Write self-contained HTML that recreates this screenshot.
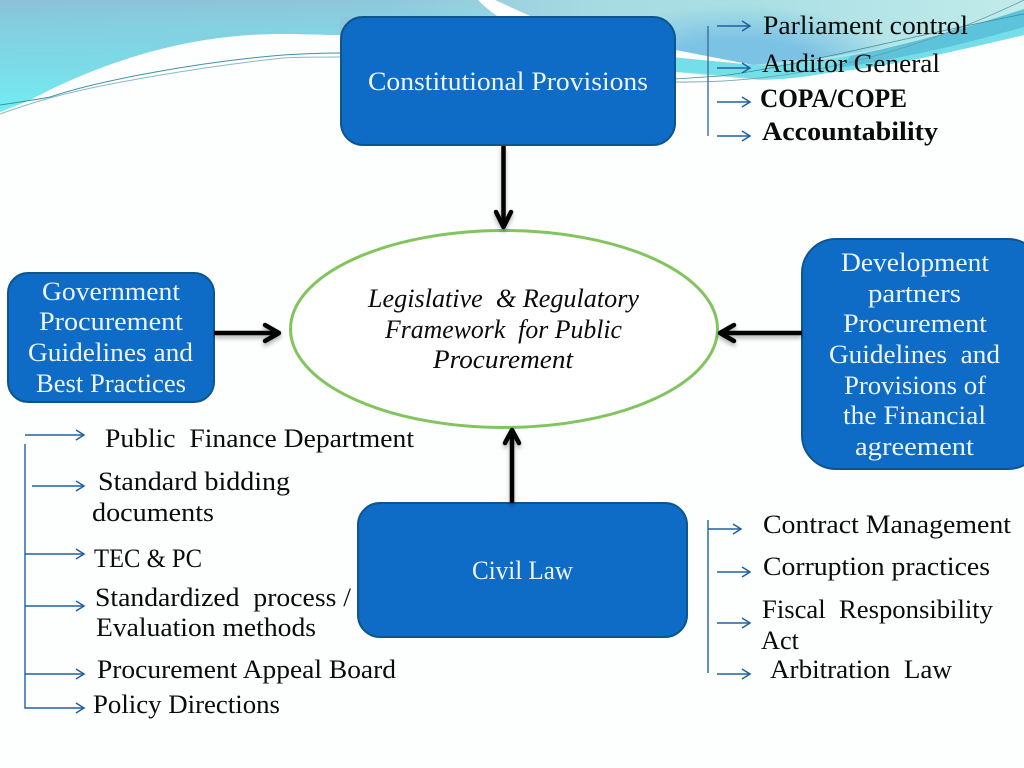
<!DOCTYPE html>
<html>
<head>
<meta charset="utf-8">
<style>
html,body{margin:0;padding:0;background:#fff}
svg{display:block}
text{font-family:"Liberation Serif",serif;font-size:26px;fill:#0b0b0b}
.w{fill:#eef4fb}
</style>
</head>
<body>
<svg width="1024" height="768" viewBox="0 0 1024 768" xmlns="http://www.w3.org/2000/svg">
<defs>
<linearGradient id="h" gradientUnits="userSpaceOnUse" x1="0" y1="0" x2="1024" y2="0">
<stop offset="0" stop-color="#8cc0d7"/>
<stop offset="0.38" stop-color="#8fc6db"/>
<stop offset="0.58" stop-color="#a6dbe2"/>
<stop offset="0.72" stop-color="#a8dfe4"/>
<stop offset="1" stop-color="#c2ebea"/>
</linearGradient>
<linearGradient id="l" gradientUnits="userSpaceOnUse" x1="0" y1="0" x2="0" y2="114">
<stop offset="0" stop-color="#6ff0f4" stop-opacity="0"/>
<stop offset="0.35" stop-color="#78e0ea" stop-opacity="0.55"/>
<stop offset="1" stop-color="#6ff0f4" stop-opacity="1"/>
</linearGradient>
<radialGradient id="b" gradientUnits="userSpaceOnUse" cx="740" cy="75" r="70" gradientTransform="translate(740 75) scale(2.4 1) translate(-740 -75)">
<stop offset="0" stop-color="#7cc2e4" stop-opacity="1"/>
<stop offset="0.5" stop-color="#7cc2e4" stop-opacity="1"/>
<stop offset="1" stop-color="#7cc2e4" stop-opacity="0"/>
</radialGradient>
<marker id="a" markerWidth="12" markerHeight="14" refX="10" refY="6" orient="auto" markerUnits="userSpaceOnUse">
<path d="M2 1L10 6L2 11" fill="none" stroke="#22609f" stroke-width="1.500"/>
</marker>
<filter id="s" x="-30%" y="-30%" width="160%" height="160%">
<feDropShadow dx="0" dy="3" stdDeviation="2" flood-color="#000" flood-opacity="0.3"/>
</filter>
</defs>
<rect width="1024" height="768" fill="#fdfefe"/>
<!-- top band -->
<path d="M0 0H1024V35C990 43 960 50 927 57C895 64 860 69 827 73C805 77 780 80 760 80L675 72V60L340 35C325 35 305 34 285 34C180 33 90 68 30 100L0 112Z" fill="url(#h)"/>
<path d="M0 0H478L500 17H340V35C325 35 305 34 285 34C180 33 90 68 30 100L0 112Z" fill="url(#l)"/>
<path d="M660 0H1024V10C950 35 880 52 800 60L753 65L660 56Z" fill="url(#b)"/>
<!-- wisps -->
<path d="M478 0H495L530 16H497C490 11 484 6 478 0Z" fill="#fff"/>
<path d="M660 47L753 65L660 56Z" fill="#fff"/>
<path d="M660 56L753 65C790 66 825 60 860 54C920 42 975 25 1024 18V35C990 43 960 50 927 57C895 64 860 69 827 73C805 77 780 80 760 79L700 73L660 71Z" fill="#74dfe8"/>
<path d="M850 56C920 42 975 25 1024 9V27C960 45 910 57 838 68C844 64 848 60 850 56Z" fill="#5cc3da"/>
<path d="M675 82C800 84 920 50 1024 0" fill="none" stroke="#6a9ca8" stroke-width="0.800"/>
<path d="M675 79L720 76C800 66 900 38 1024 14" fill="none" stroke="#3c8a9c" stroke-width="0.800"/>
<path d="M0 105C20 102 35 100 50 97C100 80 200 62 283 55C300 54 320 53 340 53" fill="none" stroke="#3f92a4" stroke-width="1"/>
<path d="M0 114C20 107 35 102 50 98C100 84 200 67 283 58C300 57 320 57 340 57" fill="none" stroke="#8ab8c6" stroke-width="1"/>

<!-- boxes -->
<rect x="341" y="17" width="334" height="128" rx="22" fill="#0e6bc6" stroke="#0c558f" stroke-width="2"/>
<rect x="8" y="273" width="206" height="129" rx="20" fill="#0e6bc6" stroke="#0c558f" stroke-width="2"/>
<rect x="802" y="239" width="240" height="230" rx="34" fill="#0e6bc6" stroke="#0c558f" stroke-width="2"/>
<rect x="358" y="503" width="329" height="134" rx="22" fill="#0e6bc6" stroke="#0c558f" stroke-width="2"/>
<ellipse cx="504" cy="329" rx="213.500" ry="98.500" fill="#fff" stroke="#82c45e" stroke-width="3"/>

<!-- thick arrows -->
<g fill="none" stroke="#050505" stroke-width="4.500" stroke-linejoin="round" filter="url(#s)">
<path d="M503.500 146V227"/><path d="M496 212L503.500 227L511 212" stroke-linecap="round"/>
<path d="M214 333H279"/><path d="M265 325L279 333L265 341" stroke-linecap="round"/>
<path d="M802 333H720"/><path d="M734 325L720 333L734 341" stroke-linecap="round"/>
<path d="M512 503V430"/><path d="M505 443L512 430L519 443" stroke-linecap="round"/>
</g>

<!-- thin connector lines -->
<g fill="none" stroke="#22609f" stroke-width="1.400">
<path d="M708 26V136" stroke="#3a70a0"/>
<path d="M717 26H750" marker-end="url(#a)"/>
<path d="M717 68H750" marker-end="url(#a)"/>
<path d="M717 102H750" marker-end="url(#a)"/>
<path d="M717 136H750" marker-end="url(#a)"/>
<path d="M25 435H84" marker-end="url(#a)"/>
<path d="M25 444V708H84" marker-end="url(#a)"/>
<path d="M32 486H84" marker-end="url(#a)"/>
<path d="M25 554H84" marker-end="url(#a)"/>
<path d="M25 606H84" marker-end="url(#a)"/>
<path d="M25 674H84" marker-end="url(#a)"/>
<path d="M708 520V673"/>
<path d="M708 529H741" marker-end="url(#a)"/>
<path d="M717 572H750" marker-end="url(#a)"/>
<path d="M717 623H750" marker-end="url(#a)"/>
<path d="M717 674H750" marker-end="url(#a)"/>
</g>

<!-- box labels -->
<text class="w" x="368" y="90" textLength="280" lengthAdjust="spacingAndGlyphs">Constitutional Provisions</text>
<text class="w" x="42" y="300" textLength="138" lengthAdjust="spacingAndGlyphs">Government</text>
<text class="w" x="39" y="330" textLength="144" lengthAdjust="spacingAndGlyphs">Procurement</text>
<text class="w" x="28" y="361" textLength="165" lengthAdjust="spacingAndGlyphs">Guidelines and</text>
<text class="w" x="36" y="392" textLength="150" lengthAdjust="spacingAndGlyphs">Best Practices</text>
<text class="w" x="841" y="271" textLength="148" lengthAdjust="spacingAndGlyphs">Development</text>
<text class="w" x="868" y="302" textLength="93" lengthAdjust="spacingAndGlyphs">partners</text>
<text class="w" x="843" y="332" textLength="144" lengthAdjust="spacingAndGlyphs">Procurement</text>
<text class="w" x="829" y="363" textLength="171" lengthAdjust="spacingAndGlyphs" xml:space="preserve">Guidelines  and</text>
<text class="w" x="844" y="394" textLength="142" lengthAdjust="spacingAndGlyphs">Provisions of</text>
<text class="w" x="843" y="424" textLength="143" lengthAdjust="spacingAndGlyphs">the Financial</text>
<text class="w" x="855" y="455" textLength="119" lengthAdjust="spacingAndGlyphs">agreement</text>
<text class="w" x="472" y="579" textLength="101" lengthAdjust="spacingAndGlyphs">Civil Law</text>
<g style="font-style:italic">
<text x="368" y="307" textLength="271" lengthAdjust="spacingAndGlyphs" xml:space="preserve">Legislative  &amp; Regulatory</text>
<text x="385" y="338" textLength="237" lengthAdjust="spacingAndGlyphs" xml:space="preserve">Framework  for Public</text>
<text x="433" y="368" textLength="140" lengthAdjust="spacingAndGlyphs">Procurement</text>
</g>

<!-- list labels -->
<text x="763" y="34" textLength="205" lengthAdjust="spacingAndGlyphs">Parliament control</text>
<text x="762" y="72" textLength="178" lengthAdjust="spacingAndGlyphs">Auditor General</text>
<text x="760" y="107" textLength="147" lengthAdjust="spacingAndGlyphs" style="font-weight:bold">COPA/COPE</text>
<text x="762" y="140" textLength="176" lengthAdjust="spacingAndGlyphs" style="font-weight:bold">Accountability</text>

<text x="105" y="447" textLength="309" lengthAdjust="spacingAndGlyphs" xml:space="preserve">Public  Finance Department</text>
<text x="98" y="490" textLength="192" lengthAdjust="spacingAndGlyphs">Standard bidding</text>
<text x="92" y="521" textLength="122" lengthAdjust="spacingAndGlyphs">documents</text>
<text x="94" y="567" textLength="108" lengthAdjust="spacingAndGlyphs">TEC &amp; PC</text>
<text x="95" y="606" textLength="256" lengthAdjust="spacingAndGlyphs" xml:space="preserve">Standardized  process /</text>
<text x="96" y="636" textLength="220" lengthAdjust="spacingAndGlyphs">Evaluation methods</text>
<text x="97" y="678" textLength="299" lengthAdjust="spacingAndGlyphs">Procurement Appeal Board</text>
<text x="93" y="713" textLength="187" lengthAdjust="spacingAndGlyphs">Policy Directions</text>

<text x="763" y="533" textLength="248" lengthAdjust="spacingAndGlyphs">Contract Management</text>
<text x="763" y="575" textLength="227" lengthAdjust="spacingAndGlyphs">Corruption practices</text>
<text x="762" y="618" textLength="231" lengthAdjust="spacingAndGlyphs" xml:space="preserve">Fiscal  Responsibility</text>
<text x="761" y="649" textLength="38" lengthAdjust="spacingAndGlyphs">Act</text>
<text x="770" y="678" textLength="182" lengthAdjust="spacingAndGlyphs" xml:space="preserve">Arbitration  Law</text>
</svg>
</body>
</html>
